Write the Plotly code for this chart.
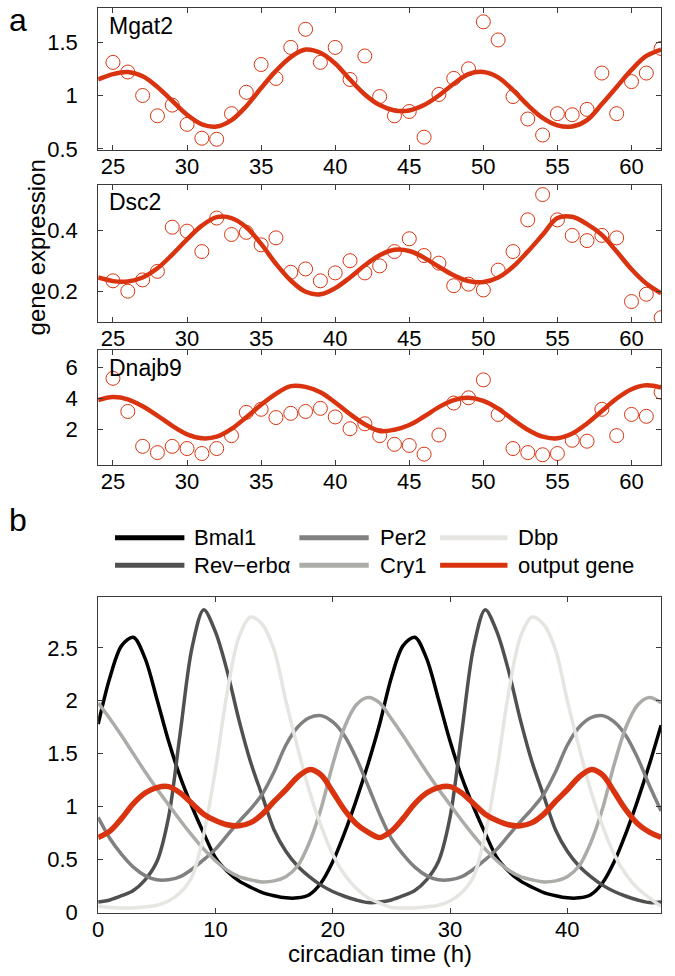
import plotly.graph_objects as go

W, H = 675, 976
FONT = "Liberation Sans, Arial, sans-serif"
RED = "#d9340f"

# ---------------- panel a data ----------------
fit_hours = list(range(24, 63))
sample_hours = list(range(25, 63))
gene_names = ["Mgat2", "Dsc2", "Dnajb9"]

mgat2_fit = [1.15, 1.20, 1.22, 1.18, 1.08, 0.95, 0.82, 0.73, 0.71, 0.77, 0.90, 1.07, 1.23,
             1.36, 1.43, 1.40, 1.30, 1.15, 1.01, 0.91, 0.86, 0.86, 0.91, 1.00, 1.11, 1.20,
             1.22, 1.17, 1.05, 0.91, 0.79, 0.72, 0.71, 0.77, 0.92, 1.08, 1.24, 1.37, 1.43]
mgat2_obs = [1.31, 1.22, 1.00, 0.81, 0.91, 0.73, 0.60, 0.59, 0.83, 1.03, 1.29, 1.16, 1.45,
             1.62, 1.31, 1.45, 1.15, 1.37, 0.99, 0.81, 0.85, 0.61, 1.01, 1.16, 1.25, 1.69,
             1.52, 0.99, 0.78, 0.63, 0.83, 0.82, 0.87, 1.21, 0.83, 1.13, 1.21, 1.44]

dsc2_fit = [0.245, 0.233, 0.232, 0.245, 0.275, 0.32, 0.37, 0.415, 0.443, 0.44, 0.41, 0.355,
            0.29, 0.235, 0.198, 0.19, 0.21, 0.245, 0.285, 0.318, 0.336, 0.332, 0.31, 0.28,
            0.252, 0.233, 0.23, 0.245, 0.28, 0.33, 0.385, 0.44, 0.444, 0.42, 0.385, 0.33,
            0.272, 0.225, 0.193]
dsc2_obs = [0.234, 0.20, 0.237, 0.265, 0.41, 0.397, 0.33, 0.44, 0.386, 0.393, 0.352, 0.375,
            0.262, 0.273, 0.234, 0.26, 0.30, 0.26, 0.283, 0.33, 0.372, 0.317, 0.292, 0.218,
            0.223, 0.204, 0.269, 0.33, 0.434, 0.517, 0.434, 0.383, 0.366, 0.383, 0.375,
            0.166, 0.19, 0.113]

dnajb9_fit = [3.9, 4.1, 3.95, 3.5, 2.9, 2.25, 1.7, 1.45, 1.55, 2.05, 2.8, 3.6, 4.3, 4.8,
              4.75, 4.4, 3.75, 3.0, 2.35, 1.92, 2.0, 2.3, 2.85, 3.45, 3.9, 4.05, 3.85, 3.35,
              2.65, 2.0, 1.55, 1.45, 1.75, 2.4, 3.2, 4.0, 4.6, 4.85, 4.7]
dnajb9_obs = [5.3, 3.17, 0.93, 0.53, 0.93, 0.79, 0.47, 0.79, 1.62, 3.11, 3.31, 2.78, 3.05,
              3.17, 3.37, 2.82, 2.06, 2.38, 1.62, 1.06, 0.99, 0.43, 1.66, 3.71, 4.05, 5.2,
              2.98, 0.79, 0.53, 0.39, 0.47, 1.32, 1.26, 3.31, 1.62, 2.98, 2.86, 4.41]

a_ticks_x = [25, 30, 35, 40, 45, 50, 55, 60]
a_ticks_y = [[0.5, 1, 1.5], [0.2, 0.4], [2, 4, 6]]
a_ranges_y = [[0.49, 1.82], [0.1, 0.55], [-0.25, 7.1]]

# ---------------- panel b data ----------------
ct_hours = list(range(0, 49))
clock_names = ["Bmal1", "Rev\u2212erb\u03b1", "Per2", "Cry1", "Dbp", "output gene"]
clock_colors = ["#000000", "#505050", "#808080", "#ababa8", "#e6e5e1", RED]

bmal1 = [1.78, 2.22, 2.52, 2.60, 2.40, 2.02, 1.62, 1.28, 1.00, 0.75, 0.52, 0.39, 0.30,
         0.24, 0.19, 0.16, 0.14, 0.14, 0.17, 0.28, 0.48, 0.75, 1.06, 1.40, 1.78,
         2.22, 2.52, 2.60, 2.40, 2.02, 1.62, 1.28, 1.00, 0.75, 0.52, 0.39, 0.30,
         0.24, 0.19, 0.16, 0.14, 0.14, 0.17, 0.28, 0.48, 0.75, 1.06, 1.40, 1.77]
rev_erba = [0.10, 0.12, 0.16, 0.21, 0.31, 0.48, 0.90, 1.70, 2.50, 2.86, 2.65, 2.28, 1.82,
            1.42, 1.10, 0.78, 0.58, 0.44, 0.34, 0.26, 0.20, 0.155, 0.12, 0.095, 0.10,
            0.12, 0.16, 0.21, 0.31, 0.48, 0.90, 1.70, 2.50, 2.86, 2.65, 2.28, 1.82,
            1.42, 1.10, 0.78, 0.58, 0.44, 0.34, 0.26, 0.20, 0.155, 0.12, 0.095, 0.10]
per2 = [0.90, 0.70, 0.55, 0.43, 0.35, 0.31, 0.31, 0.34, 0.41, 0.50, 0.60, 0.73, 0.86,
        0.98, 1.12, 1.33, 1.58, 1.75, 1.84, 1.86, 1.80, 1.67, 1.46, 1.20, 0.93,
        0.70, 0.55, 0.43, 0.35, 0.31, 0.31, 0.34, 0.41, 0.50, 0.60, 0.73, 0.86,
        0.98, 1.12, 1.33, 1.58, 1.75, 1.84, 1.86, 1.80, 1.67, 1.46, 1.20, 0.96]
cry1 = [1.98, 1.83, 1.67, 1.50, 1.33, 1.17, 1.02, 0.87, 0.73, 0.60, 0.49, 0.40, 0.34,
        0.31, 0.29, 0.30, 0.34, 0.44, 0.66, 0.98, 1.40, 1.75, 1.96, 2.03, 1.98,
        1.83, 1.67, 1.50, 1.33, 1.17, 1.02, 0.87, 0.73, 0.60, 0.49, 0.40, 0.34,
        0.31, 0.29, 0.30, 0.34, 0.44, 0.66, 0.98, 1.40, 1.75, 1.96, 2.03, 1.98]
dbp = [0.06, 0.05, 0.045, 0.045, 0.055, 0.07, 0.11, 0.19, 0.34, 0.74, 1.35, 2.08, 2.60,
       2.79, 2.72, 2.48, 2.00, 1.56, 1.15, 0.82, 0.55, 0.36, 0.23, 0.14, 0.09,
       0.05, 0.045, 0.045, 0.055, 0.07, 0.11, 0.19, 0.34, 0.74, 1.35, 2.08, 2.60,
       2.79, 2.72, 2.48, 2.00, 1.56, 1.15, 0.82, 0.55, 0.36, 0.23, 0.14, 0.06]
output_gene = [0.71, 0.77, 0.89, 1.03, 1.13, 1.18, 1.19, 1.13, 1.03, 0.93, 0.87, 0.83, 0.82,
               0.85, 0.93, 1.05, 1.16, 1.28, 1.35, 1.30, 1.14, 0.97, 0.84, 0.76, 0.71,
               0.77, 0.89, 1.03, 1.13, 1.18, 1.19, 1.13, 1.03, 0.93, 0.87, 0.83, 0.82,
               0.85, 0.93, 1.05, 1.16, 1.28, 1.35, 1.30, 1.14, 0.97, 0.84, 0.76, 0.71]
clock_series = [bmal1, rev_erba, per2, cry1, dbp, output_gene]
b_ticks_x = [0, 10, 20, 30, 40]
b_ticks_y = [0, 0.5, 1, 1.5, 2, 2.5]

# ---------------- layout geometry (pixels) ----------------
X0, X1 = 93, 661
a_boxes = [(8, 152), (187, 326), (355, 471)]
b_box = (605, 925)


def fx(p):
    return p / W


def fy(p):
    return 1 - p / H


fig = go.Figure()

axis_style = dict(showline=True, linecolor="#3a3a3a", linewidth=1, mirror="ticks",
                  ticks="inside", ticklen=5, tickwidth=1, tickcolor="#3a3a3a",
                  showgrid=False, zeroline=False,
                  tickfont=dict(family=FONT, size=22, color="black"))

fits = [mgat2_fit, dsc2_fit, dnajb9_fit]
obs = [mgat2_obs, dsc2_obs, dnajb9_obs]
layout_axes = {}
annotations = []
for i in range(3):
    n = "" if i == 0 else str(i + 1)
    xa, ya = "x" + n, "y" + n
    fig.add_trace(go.Scatter(x=sample_hours, y=obs[i], mode="markers", xaxis=xa, yaxis=ya,
                             marker=dict(symbol="circle-open", size=14, color=RED,
                                         line=dict(width=1, color=RED)),
                             showlegend=False, name=gene_names[i] + " data"))
    fig.add_trace(go.Scatter(x=fit_hours, y=fits[i], mode="lines", xaxis=xa, yaxis=ya,
                             line=dict(color=RED, width=4.5, shape="spline", smoothing=1.0),
                             showlegend=False, name=gene_names[i] + " fit"))
    top, bot = a_boxes[i]
    layout_axes["xaxis" + n] = dict(axis_style, domain=[fx(X0), fx(X1)], range=[24, 62],
                                    tickvals=a_ticks_x, anchor=ya, ticklabelstandoff=-3)
    layout_axes["yaxis" + n] = dict(axis_style, domain=[fy(bot), fy(top)],
                                    range=a_ranges_y[i], tickvals=a_ticks_y[i], anchor=xa,
                                    ticklabelstandoff=15)
    annotations.append(dict(text=gene_names[i], x=fx(102), y=fy(top + 18), xref="paper",
                            yref="paper", xanchor="left", yanchor="middle", showarrow=False,
                            font=dict(family=FONT, size=23, color="black")))

for name, col, ys in zip(clock_names, clock_colors, clock_series):
    w = 5.5 if name == "output gene" else 3.5
    fig.add_trace(go.Scatter(x=ct_hours, y=ys, mode="lines", xaxis="x4", yaxis="y4",
                             line=dict(color=col, width=w, shape="spline", smoothing=0.9),
                             name=name, showlegend=False))

layout_axes["xaxis4"] = dict(axis_style, domain=[fx(X0), fx(X1)], range=[0, 48],
                             tickvals=b_ticks_x, anchor="y4", ticklabelstandoff=-3)
layout_axes["yaxis4"] = dict(axis_style, domain=[fy(b_box[1]), fy(b_box[0])],
                             range=[0, 2.98], tickvals=b_ticks_y, anchor="x4",
                             ticklabelstandoff=15)

# manual legend: 3 columns x 2 rows (Bmal1, Per2, Dbp / Rev-erba, Cry1, output gene)
legend_cols = [(110, 180, 188), (296, 366, 375), (438, 506, 515)]
legend_rows = [545, 573]
legend_order = [[0, 2, 4], [1, 3, 5]]
shapes = []
for r, row in enumerate(legend_order):
    for c, k in enumerate(row):
        x_a, x_b, x_t = legend_cols[c]
        yy = fy(legend_rows[r])
        shapes.append(dict(type="line", xref="paper", yref="paper", x0=fx(x_a), x1=fx(x_b),
                           y0=yy, y1=yy, line=dict(color=clock_colors[k], width=5)))
        annotations.append(dict(text=clock_names[k], x=fx(x_t), y=yy, xref="paper",
                                yref="paper", xanchor="left", yanchor="middle",
                                showarrow=False,
                                font=dict(family=FONT, size=22, color="black")))

annotations += [
    dict(text="a", x=fx(12), y=fy(20), xref="paper", yref="paper", showarrow=False,
         xanchor="center", yanchor="middle", font=dict(family=FONT, size=32, color="black")),
    dict(text="b", x=fx(12), y=fy(527), xref="paper", yref="paper", showarrow=False,
         xanchor="center", yanchor="middle", font=dict(family=FONT, size=32, color="black")),
    dict(text="gene expression", x=fx(31), y=fy(251), xref="paper", yref="paper",
         showarrow=False, textangle=-90, xanchor="center", yanchor="middle",
         font=dict(family=FONT, size=24, color="black")),
    dict(text="circadian time (h)", x=fx(377), y=fy(966), xref="paper", yref="paper",
         showarrow=False, xanchor="center", yanchor="middle",
         font=dict(family=FONT, size=24, color="black")),
]

fig.update_layout(width=W, height=H, margin=dict(l=0, r=0, t=0, b=0),
                  paper_bgcolor="white", plot_bgcolor="white", showlegend=False,
                  annotations=annotations, shapes=shapes, **layout_axes)

fig.write_html("out.html", config={"displayModeBar": False},
               post_script="document.body.style.margin='0px';")
